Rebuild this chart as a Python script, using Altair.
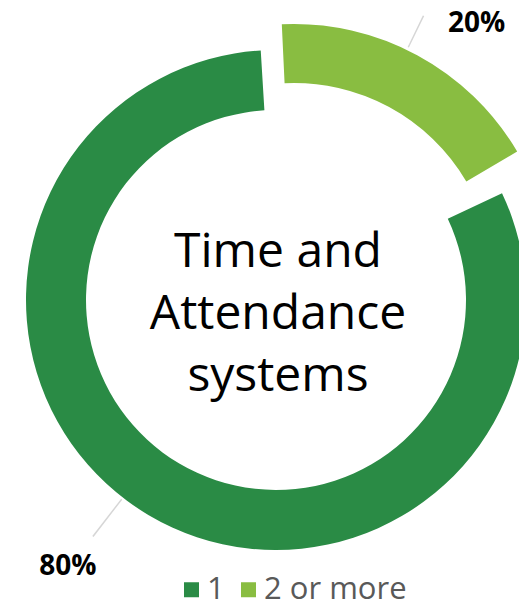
import altair as alt
import pandas as pd
import math

# ---- data ----
categories = ["1", "2 or more"]
values = [80, 20]
colors = ["#2a8b45", "#89bd41"]
center_title = "Time and\nAttendance\nsystems"

df = pd.DataFrame({"category": categories, "value": values})
df["label"] = df["value"].astype(str) + "%"
draw_order = ["2 or more", "1"]  # clockwise from the top
df["ord"] = df["category"].map({c: i for i, c in enumerate(draw_order)})
df = df.sort_values("ord").reset_index(drop=True)
df["end"] = df["value"].cumsum()
df["start"] = df["end"] - df["value"]
df["mid"] = (df["start"] + df["end"]) / 2

deg = math.pi / 180.0
W, H = 511, 592

base = alt.Chart(df)

color = alt.Color(
    "category:N",
    scale=alt.Scale(domain=categories, range=colors),
    legend=alt.Legend(
        title=None,
        orient="none",
        legendX=168,
        legendY=566,
        direction="horizontal",
        symbolType="square",
        symbolSize=225,
        symbolStrokeWidth=0,
        symbolOpacity=1,
        labelFont="Open Sans",
        labelFontSize=31,
        labelColor="#595959",
        labelOffset=0,
        columnPadding=8,
        labelExpr="datum.label == '1' ? datum.label : '\u00a0\u00a0\u00a0\u00a0' + datum.label",
    ),
)


def group(cat, cx, cy, r_out, r_in, a0, a1, label_r, label_off, lead_off, lead_r1, lead_r2):
    sub = base.transform_filter(alt.datum.category == cat)
    row = df[df.category == cat].iloc[0]
    sc = alt.Scale(domain=[float(row.start), float(row.end)], range=[a0 * deg, a1 * deg])
    arc = sub.mark_arc(radius=r_out, radius2=r_in).encode(
        theta=alt.Theta("start:Q", scale=sc, stack=False),
        theta2="end:Q",
        color=color,
        x=alt.value(cx),
        y=alt.value(cy),
    )
    lead = sub.mark_arc(
        radius=lead_r2,
        radius2=lead_r1,
        thetaOffset=lead_off * deg,
        theta2Offset=lead_off * deg + 0.0055,
        color="#d6d6d6",
    ).encode(
        theta=alt.Theta("mid:Q", scale=sc, stack=False),
        theta2="mid:Q",
        x=alt.value(cx),
        y=alt.value(cy),
    )
    text = sub.mark_text(
        radius=label_r,
        thetaOffset=label_off * deg,
        font="Open Sans",
        fontSize=28,
        fontWeight="bold",
        color="#000000",
        align="center",
        baseline="middle",
    ).encode(
        theta=alt.Theta("mid:Q", scale=sc, stack=False),
        text="label:N",
        x=alt.value(cx),
        y=alt.value(cy),
    )
    return alt.layer(arc, lead, text)


dark = group("1", 268, 292, 250, 190, 64.7, 356.5, 339, 7.3, 7.0, 252, 299)
light = group("2 or more", 286, 275, 259, 200, 357.3, 419.5, 317, 6.8, -2.7, 262, 297)

title_df = pd.DataFrame({"t": [center_title]})
center = alt.Chart(title_df).mark_text(
    font="Open Sans",
    fontSize=48,
    color="#000000",
    align="center",
    baseline="alphabetic",
    lineBreak="\n",
    lineHeight=62,
).encode(text="t:N", x=alt.value(270), y=alt.value(259))

chart = (
    alt.layer(dark, light, center)
    .resolve_scale(theta="independent")
    .properties(width=W, height=H, padding=0, autosize=alt.AutoSizeParams(type="none"))
    .configure_view(strokeWidth=0)
)

chart.save("out.html", embed_options={"renderer": "svg", "actions": False})
